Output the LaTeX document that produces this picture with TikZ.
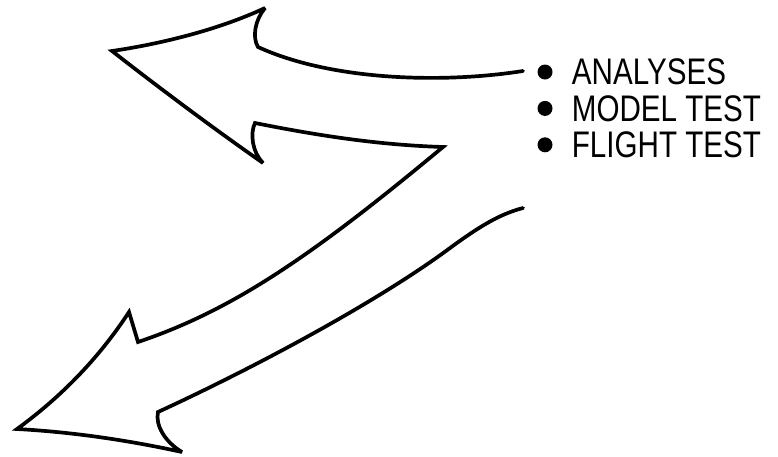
\documentclass[tikz,border=0pt]{standalone}
\usepackage{fontspec}
\newfontfamily\letterfont[FakeStretch=0.8]{Liberation Sans}
\usetikzlibrary{positioning}

\begin{document}
\begin{tikzpicture}[x=1pt, y=-1pt,
      outline/.style={draw=black, line width=3.7pt, line join=miter,
                      miter limit=3, line cap=round},
      dot/.style={circle, fill=black, inner sep=0pt, minimum size=15pt},
      item/.style={anchor=west, inner sep=0pt,
                   font=\letterfont\fontsize{37}{38}\selectfont}
    ]
    \useasboundingbox (0,0) rectangle (778,456);
    \node[dot] (d1) at (545,72) {};
    \node[dot, below=21pt of d1] (d2) {};
    \node[dot, below=21pt of d2] (d3) {};
    \node[item, right=19pt of d1] (ana) {ANALYSES};
    \node[item, right=19pt of d2] (mod) {MODEL TEST};
    \node[item, right=19pt of d3] (fli) {FLIGHT TEST};
    % double arrow outline, upper head then lower head
    \draw[outline]
      (523,71) .. controls (440,84) and (330,80) .. (258,47)
      .. controls (252,37) and (255,20) .. (265,8)
      .. controls (218,30) and (160,44) .. (112,51)
      .. controls (162,90) and (213,128) .. (263,163)
      .. controls (252,152) and (250,133) .. (255,123)
      .. controls (320,136) and (380,145) .. (443,147)
      .. controls (312,256) and (233,310) .. (138,342)
      -- (129,312)
      .. controls (99,358) and (61,397) .. (17,429)
      .. controls (72,432) and (127,440) .. (182,452)
      .. controls (165,442) and (155,425) .. (158,412)
      .. controls (260,365) and (380,300) .. (450,248)
      .. controls (480,226) and (500,214) .. (523,208);
  \end{tikzpicture}
\end{document}
